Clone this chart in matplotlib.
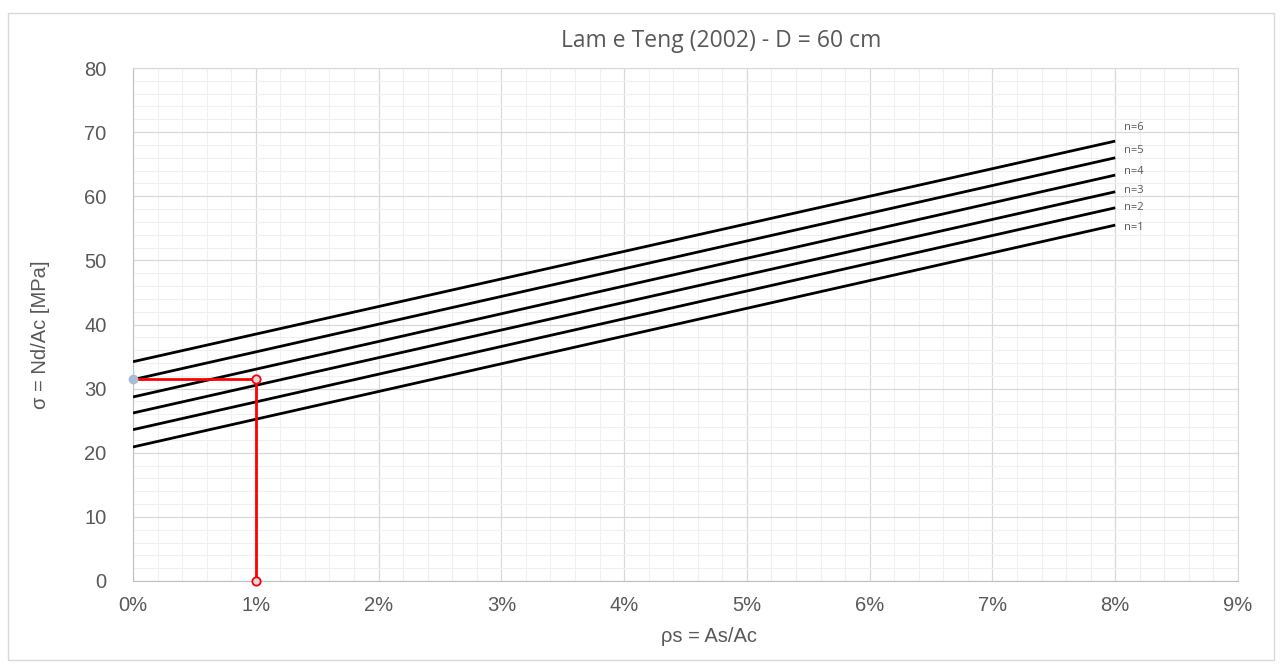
import numpy as np
import matplotlib
matplotlib.use("Agg")
import matplotlib.pyplot as plt
from matplotlib.ticker import MultipleLocator, FuncFormatter
from matplotlib.patches import Rectangle

# data
rho = [0.0, 0.08]                     # ps = As/Ac
curves = {                           # sigma at rho = 0% and 8%
    "n=1": [20.9, 55.5],
    "n=2": [23.6, 58.2],
    "n=3": [26.2, 60.7],
    "n=4": [28.7, 63.3],
    "n=5": [31.4, 66.0],
    "n=6": [34.2, 68.6],
}
label_y = {"n=1": 55.1, "n=2": 58.3, "n=3": 60.9, "n=4": 63.9, "n=5": 67.1, "n=6": 70.7}
design_rho = 0.01
design_sigma = 31.5

GREY = "#595959"
plt.rcParams.update({"font.family": ["Liberation Sans", "DejaVu Sans"]})

fig = plt.figure(figsize=(12.82, 6.66), dpi=100)
fig.patches.append(Rectangle((8 / 1282, 6 / 666), 1266 / 1282, 647 / 666,
                             transform=fig.transFigure, fill=False,
                             edgecolor="#d9d9d9", lw=1))
ax = fig.add_axes([133 / 1282, 85 / 666, 1105 / 1282, 513 / 666])

for name, vals in curves.items():
    ax.plot(rho, vals, color="black", lw=2, solid_capstyle="butt", zorder=3)
    ax.text(0.0807, label_y[name], name, fontsize=8, color=GREY, va="center",
            ha="left", family=["Open Sans", "DejaVu Sans"])

# design point lines
ax.plot([0, design_rho], [design_sigma, design_sigma], color="red", lw=2, zorder=4)
ax.plot([design_rho, design_rho], [design_sigma, 0], color="red", lw=2, zorder=4,
        clip_on=False)
ax.plot([0], [design_sigma], "o", ms=6, color="#a9bcd6", mec="#a9bcd6",
        zorder=5, clip_on=False)
ax.plot([design_rho, design_rho], [design_sigma, 0], "o", ms=6, mfc="#d6dbe6",
        mec="red", mew=1.3, lw=0, zorder=5, clip_on=False)

ax.set_xlim(0, 0.09)
ax.set_ylim(0, 80)
ax.xaxis.set_major_locator(MultipleLocator(0.01))
ax.xaxis.set_minor_locator(MultipleLocator(0.002))
ax.yaxis.set_major_locator(MultipleLocator(10))
ax.yaxis.set_minor_locator(MultipleLocator(2))
ax.xaxis.set_major_formatter(FuncFormatter(lambda v, p: f"{v * 100:.0f}%"))
ax.grid(True, which="major", color="#d9d9d9", lw=0.9)
ax.grid(True, which="minor", color="#f0f0f0", lw=0.8)
ax.set_axisbelow(True)
for s in ["top", "right"]:
    ax.spines[s].set_color("#d9d9d9")
for s in ["left", "bottom"]:
    ax.spines[s].set_color("#bfbfbf")
ax.tick_params(which="major", length=0, labelsize=14.5, labelcolor=GREY, pad=11)
ax.tick_params(axis="y", which="major", pad=19)
ax.tick_params(which="minor", length=0)

fig.text(721 / 1282, 1 - 41 / 666, "Lam e Teng (2002) - D = 60 cm", fontsize=16.5,
         color=GREY, ha="center", va="center", family=["Open Sans", "DejaVu Sans"])
fig.text(709 / 1282, 1 - 636 / 666, "ρs = As/Ac", fontsize=14.5, color=GREY,
         ha="center", va="center")
fig.text(41 / 1282, 1 - 335 / 666, "σ = Nd/Ac [MPa]", fontsize=14.5, color=GREY,
         ha="center", va="center", rotation=90)

fig.savefig("out.png", dpi=100)
